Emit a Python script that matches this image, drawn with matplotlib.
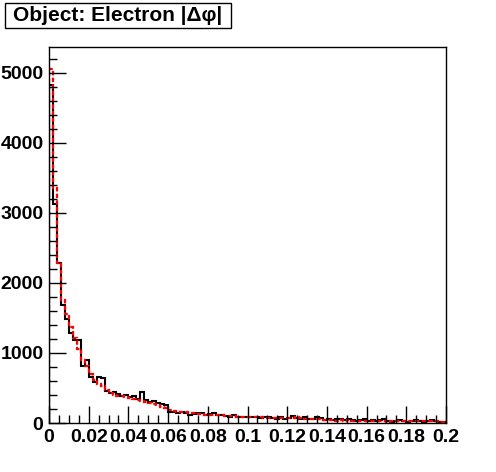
import numpy as np
import matplotlib
matplotlib.use("Agg")
import matplotlib.pyplot as plt
from matplotlib.patches import Rectangle
from matplotlib.ticker import MultipleLocator


# |delta phi| histogram, 100 bins between 0 and 0.2
X_MIN = 0.0
X_MAX = 0.2
N_BINS = 100

black_counts = [
    4830, 3130, 2280, 1690, 1480, 1290, 1190, 1180, 820, 900,
    650, 580, 660, 640, 460, 430, 440, 420, 380, 400,
    370, 380, 340, 440, 330, 300, 310, 290, 270, 250,
    160, 150, 140, 150, 140, 110, 130, 140, 140, 120,
    130, 140, 110, 110, 100, 90, 110, 90, 80, 90,
    80, 90, 80, 70, 90, 80, 70, 60, 80, 60,
    70, 100, 70, 60, 80, 50, 60, 90, 70, 40,
    50, 40, 50, 60, 40, 50, 40, 30, 40, 50,
    30, 40, 30, 40, 50, 30, 20, 30, 40, 30,
    20, 30, 40, 30, 20, 30, 40, 30, 20, 20,
]

red_counts = [
    5050, 3350, 2280, 1750, 1560, 1370, 1220, 1060, 900, 810,
    700, 620, 560, 530, 470, 430, 400, 390, 380, 370,
    360, 340, 330, 320, 300, 290, 270, 250, 230, 210,
    190, 170, 160, 150, 150, 140, 140, 130, 130, 120,
    120, 110, 110, 110, 100, 100, 95, 90, 90, 85,
    85, 80, 80, 80, 75, 75, 70, 70, 75, 70,
    65, 70, 80, 70, 60, 60, 55, 50, 55, 40,
    40, 40, 35, 40, 35, 40, 35, 35, 30, 35,
    35, 30, 35, 30, 30, 20, 30, 30, 30, 25,
    30, 30, 35, 30, 25, 25, 30, 30, 20, 20,
]

TITLE = "Object: Electron |\u0394\u03c6|"

W_PX, H_PX = 496, 472


def main():
    plt.rcParams["font.family"] = ["Liberation Sans", "DejaVu Sans"]
    plt.rcParams["font.weight"] = "bold"

    fig = plt.figure(figsize=(W_PX / 100, H_PX / 100), dpi=100)
    ax = fig.add_axes([49 / W_PX, 1 - 423 / H_PX, 397 / W_PX, 376 / H_PX])

    edges = np.linspace(X_MIN, X_MAX, N_BINS + 1)
    ax.stairs(black_counts, edges, color="black", linewidth=1.5)
    ax.stairs(red_counts, edges, color="red", linewidth=1.6,
              linestyle=(0, (2, 1)))

    ax.set_xlim(X_MIN, X_MAX)
    ax.set_ylim(0, 5370)

    ax.xaxis.set_minor_locator(MultipleLocator(0.005))
    ax.yaxis.set_major_locator(MultipleLocator(1000))
    ax.yaxis.set_minor_locator(MultipleLocator(200))
    ax.set_xticks(np.arange(0, 0.2001, 0.02))
    ax.set_xticklabels(["0", "0.02", "0.04", "0.06", "0.08", "0.1",
                        "0.12", "0.14", "0.16", "0.18", "0.2"])

    ax.tick_params(which="both", direction="in", top=False, right=False,
                   labelsize=14, width=1)
    ax.tick_params(which="major", length=12, pad=4)
    ax.tick_params(which="minor", length=6)
    for lab in ax.get_xticklabels() + ax.get_yticklabels():
        lab.set_fontweight("bold")
    for spine in ax.spines.values():
        spine.set_linewidth(1)

    # title box, ROOT style
    box = Rectangle((5 / W_PX, 1 - 28 / H_PX), 226 / W_PX, 25 / H_PX,
                    transform=fig.transFigure, facecolor="white",
                    edgecolor="black", linewidth=1)
    fig.patches.append(box)
    fig.text(118 / W_PX, 1 - 15.5 / H_PX, TITLE, fontsize=15,
             fontweight="bold", ha="center", va="center")

    fig.savefig("out.png", dpi=100)
    plt.close(fig)


if __name__ == "__main__":
    main()
